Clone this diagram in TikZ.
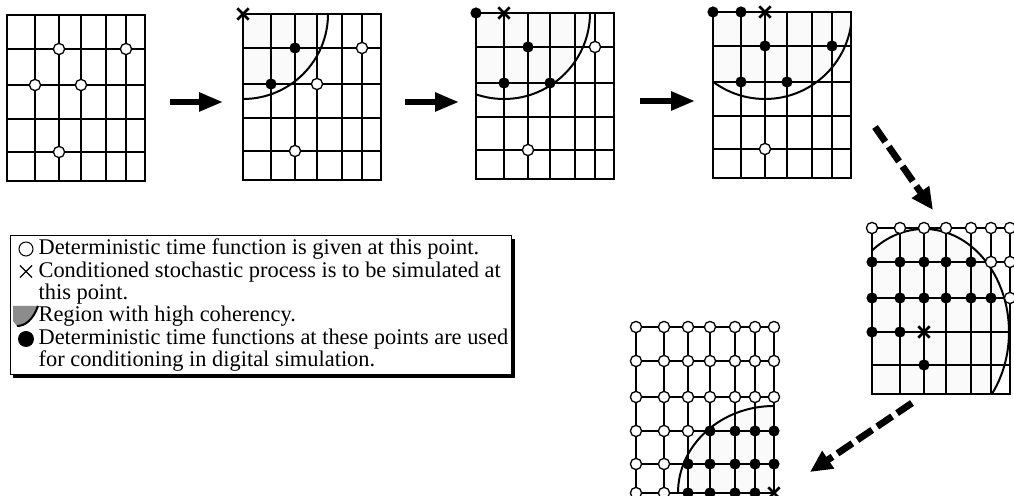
\documentclass[tikz,border=0pt]{standalone}
\usepackage{fontspec}
\setmainfont{Liberation Serif}
\usetikzlibrary{arrows.meta,shapes.misc}

% one grid sheet; its crossings are named #1-ij (column i, row j)
\newcommand\sheet[3]{%
  \begin{scope}[shift={(#2,#3)}]
    \foreach \x in {28,52,74,99,119} \draw[gridline] (\x,0)--(\x,166);
    \foreach \y in {34,70,104,137} \draw[gridline] (0,\y)--(138,\y);
    \draw[sheetframe] (0,0) rectangle (138,166);
    \foreach \x [count=\i from 0] in {0,28,52,74,99,119,138}
      \foreach \y [count=\j from 0] in {0,34,70,104,137,166}
        \coordinate (#1-\i\j) at (\x,\y);
  \end{scope}}

\begin{document}
\begin{tikzpicture}[x=.5pt,y=-.5pt,line width=.6pt,font=\fontsize{11.2pt}{13pt}\selectfont,
  gridline/.style={line width=.65pt},
  sheetframe/.style={line width=.9pt},
  givenpt/.style={circle,draw,fill=white,line width=.65pt,minimum size=5.6pt,inner sep=0pt},
  usedpt/.style={circle,fill=black,minimum size=5.6pt,inner sep=0pt},
  simpt/.style={cross out,draw,line width=1.3pt,minimum size=4.4pt,inner sep=0pt},
  arcline/.style={line width=1pt},
  coher/.style={fill=black,fill opacity=.02},
  bigarrow/.style={line width=2.8pt,-{Triangle[length=12pt,width=9pt]}},
  dasharrow/.style={line width=3.4pt,dash pattern=on 9pt off 3pt,-{Triangle[length=11pt,width=10pt]}},
  keytext/.style={anchor=base west,inner sep=0pt}]
\useasboundingbox (0,0) rectangle (1014,496);

\sheet{a}{7}{15}
\sheet{b}{243}{14}
\sheet{c}{476}{13}
\sheet{d}{713}{12}
\sheet{e}{872}{228}
\sheet{f}{636}{327}

% regions with high coherency
\begin{scope}
  \clip (b-00) rectangle (b-65);
  \fill[coher] (b-00) circle[radius=85];
  \draw[arcline] (b-00) circle[radius=85];
\end{scope}
\begin{scope}
  \clip (c-00) rectangle (c-65);
  \fill[coher] (c-10) circle[radius=86];
  \draw[arcline] (c-10) circle[radius=86];
\end{scope}
\begin{scope}
  \clip (d-00) rectangle (d-65);
  \fill[coher] (d-20) circle[radius=87];
  \draw[arcline] (d-20) circle[radius=87];
\end{scope}
\begin{scope}
  \clip (e-00) rectangle (e-65);
  \fill[coher] (e-23) ellipse[x radius=85,y radius=103];
  \draw[arcline] (e-23) ellipse[x radius=85,y radius=103];
\end{scope}
\begin{scope}
  \clip (f-00) rectangle (f-65);
  \fill[coher] (f-65) ellipse[x radius=96,y radius=87];
  \draw[arcline] (f-65) ellipse[x radius=96,y radius=87];
\end{scope}

% points
\foreach \p in {21,51,12,32,24} \node[givenpt] (a\p) at (a-\p) {};

\node[simpt] (b00) at (b-00) {};
\foreach \p in {21,12} \node[usedpt] (b\p) at (b-\p) {};
\foreach \p in {51,32,24} \node[givenpt] (b\p) at (b-\p) {};

\node[simpt] (c10) at (c-10) {};
\foreach \p in {00,21,12,32} \node[usedpt] (c\p) at (c-\p) {};
\foreach \p in {51,24} \node[givenpt] (c\p) at (c-\p) {};

\node[simpt] (d20) at (d-20) {};
\foreach \p in {00,10,21,51,12,32} \node[usedpt] (d\p) at (d-\p) {};
\node[givenpt] (d24) at (d-24) {};

\foreach \p in {00,10,20,30,40,50,60,51,61,62} \node[givenpt] (e\p) at (e-\p) {};
\foreach \p in {01,11,21,31,41,02,12,22,32,42,52,03,13,24} \node[usedpt] (e\p) at (e-\p) {};
\node[simpt] (e23) at (e-23) {};

\foreach \i in {0,...,6} \foreach \j in {0,1,2} \node[givenpt] (f\i\j) at (f-\i\j) {};
\foreach \p in {03,13,23,04,14,05,15} \node[givenpt] (f\p) at (f-\p) {};
\foreach \p in {33,43,53,63,24,34,44,54,64,25,35,45,55} \node[usedpt] (f\p) at (f-\p) {};
\node[simpt] (f65) at (f-65) {};

% steps
\coordinate (ab-s) at (170,102); \coordinate (ab-t) at (223,102);
\coordinate (bc-s) at (405,102); \coordinate (bc-t) at (459,102);
\coordinate (cd-s) at (640,101); \coordinate (cd-t) at (695,101);
\coordinate (de-s) at (875,127); \coordinate (de-t) at (933,210);
\coordinate (ef-s) at (912,403); \coordinate (ef-t) at (810,472);
\draw[bigarrow] (ab-s) -- (ab-t);
\draw[bigarrow] (bc-s) -- (bc-t);
\draw[bigarrow] (cd-s) -- (cd-t);
\draw[dasharrow] (de-s) -- (de-t);
\draw[dasharrow] (ef-s) -- (ef-t);

% key
\fill (13,239) rectangle (515,378);
\draw[fill=white,line width=.5pt] (10,236) rectangle (511,375);
\node[circle,draw,line width=.5pt,minimum size=7pt,inner sep=0pt] (keygiven) at (26,249) {};
\node[cross out,draw,line width=.55pt,minimum size=5.5pt,inner sep=0pt] (keysim) at (26,271.5) {};
\fill[black!45] (13,306)--(38,306) .. controls (33,320) and (25,326) .. (17,326) -- (13,321) -- cycle;
\draw[line width=1pt] (38,306) .. controls (33,320) and (25,326) .. (17,326);
\node[circle,fill,minimum size=8pt,inner sep=0pt] (keyused) at (26,339) {};
\node[keytext] (key1) at (38,255) {Deterministic time function is given at this point.};
\node[keytext] (key2) at (38,277.5) {Conditioned stochastic process is to be simulated at};
\node[keytext] (key3) at (38,300) {this point.};
\node[keytext] (key4) at (38,322) {Region with high coherency.};
\node[keytext] (key5) at (38,344.5) {Deterministic time functions at these points are used};
\node[keytext] (key6) at (38,367) {for conditioning in digital simulation.};
\end{tikzpicture}
\end{document}
